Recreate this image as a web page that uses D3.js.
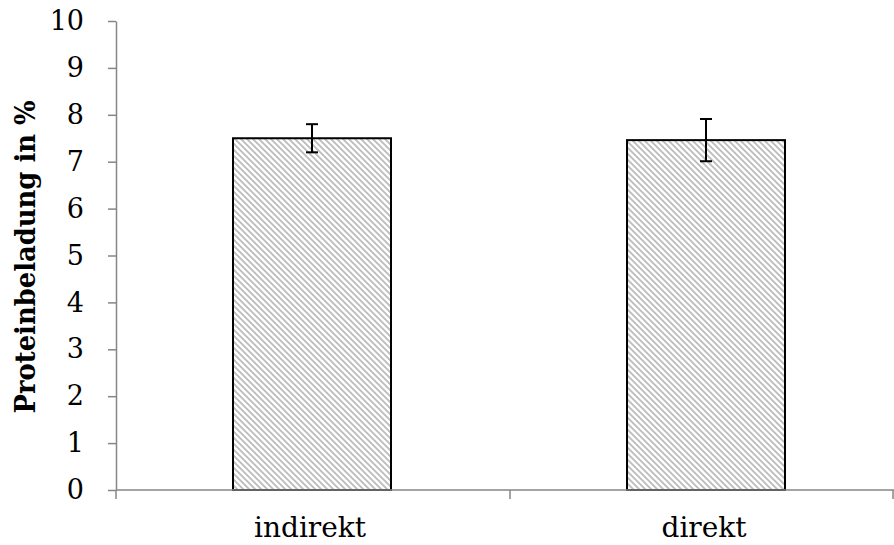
<!DOCTYPE html>
<html><head><meta charset="utf-8">
<script src="https://cdn.jsdelivr.net/npm/d3@7"></script>
<style>body{margin:0;background:#fff}svg{display:block}</style>
</head><body><svg id="c" width="894" height="545"></svg>
<script>
const categories = ["indirekt", "direkt"];
const values = [7.50, 7.46];
const errors = [0.30, 0.45];
const yTicks = [0,1,2,3,4,5,6,7,8,9,10];
const yLabel = "Proteinbeladung in %";

const svg = d3.select("#c");
const mLeft = 116, mRight = 894, mTop = 21, mBottom = 490;
const font = "'DejaVu Serif', serif";

const defs = svg.append("defs");
const pat = defs.append("pattern").attr("id","hatch").attr("patternUnits","userSpaceOnUse")
  .attr("width",6).attr("height",6);
pat.append("rect").attr("width",6).attr("height",6).attr("fill","#fff");
pat.append("path").attr("d","M-1,-1 L7,7 M-4,2 L2,8 M4,-2 L8,2").attr("stroke","#bcbcbc").attr("stroke-width",1.8);

const x = d3.scaleBand().domain(categories).range([115, 903]).padding(0);
const y = d3.scaleLinear().domain([0,10]).range([mBottom, mTop]);
const bw = 158;
const cx = d => x(d) + x.bandwidth()/2;

// y axis
const yAxis = svg.append("g").attr("transform",`translate(${mLeft},0)`)
  .call(d3.axisLeft(y).tickValues(yTicks).tickSize(8).tickPadding(24).tickSizeOuter(0));
yAxis.select(".domain").attr("stroke","#868686").attr("stroke-width",1.5);
yAxis.selectAll(".tick line").attr("stroke","#868686").attr("stroke-width",1.5);
yAxis.selectAll("text").attr("font-family",font).attr("font-size",27).attr("fill","#000");

// bars
svg.selectAll("rect.bar").data(categories).join("rect").attr("class","bar")
  .attr("x", d=>cx(d)-bw/2)
  .attr("y", (d,i)=>y(values[i]))
  .attr("width", bw)
  .attr("height", (d,i)=>y(0)-y(values[i]))
  .attr("fill","url(#hatch)").attr("stroke","#000").attr("stroke-width",2);

// x axis
const xAxis = svg.append("g").attr("transform",`translate(0,${mBottom})`);
xAxis.append("line").attr("x1",mLeft).attr("x2",mRight).attr("stroke","#868686").attr("stroke-width",1.5);
const bounds = [mLeft, ...categories.slice(1).map(c=>x(c)+1), mRight-1];
xAxis.selectAll("line.tk").data(bounds).join("line").attr("class","tk")
  .attr("x1",d=>d).attr("x2",d=>d).attr("y1",0).attr("y2",9)
  .attr("stroke","#868686").attr("stroke-width",1.5);
xAxis.selectAll("text").data(categories).join("text")
  .attr("x",d=>cx(d)-2).attr("y",47).attr("text-anchor","middle")
  .attr("font-family",font).attr("font-size",28).attr("fill","#000").text(d=>d);

// error bars
const eb = svg.append("g").attr("stroke","#000").attr("stroke-width",2);
categories.forEach((c,i)=>{
  const px = cx(c);
  const y1 = y(values[i]+errors[i]), y2 = y(values[i]-errors[i]);
  eb.append("line").attr("x1",px).attr("x2",px).attr("y1",y1).attr("y2",y2);
  eb.append("line").attr("x1",px-6).attr("x2",px+6).attr("y1",y1).attr("y2",y1);
  eb.append("line").attr("x1",px-6).attr("x2",px+6).attr("y1",y2).attr("y2",y2);
});

// y label
svg.append("text").attr("transform",`translate(35,257) rotate(-90)`)
  .attr("text-anchor","middle").attr("font-family",font).attr("font-weight","bold")
  .attr("font-size",27).attr("textLength",313).attr("lengthAdjust","spacingAndGlyphs")
  .attr("fill","#000").text(yLabel);
</script></body></html>
